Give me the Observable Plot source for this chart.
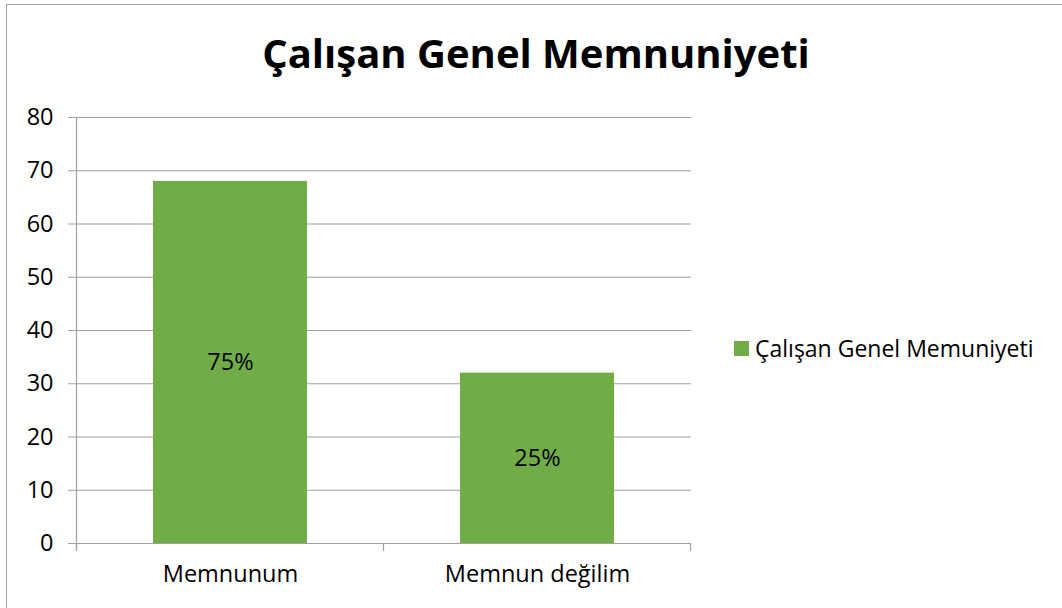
<!DOCTYPE html>
<html>
<head>
<meta charset="utf-8">
<script src="https://cdn.jsdelivr.net/npm/d3@7"></script>
<script src="https://cdn.jsdelivr.net/npm/@observablehq/plot@0.6"></script>
<style>
  html, body { margin: 0; padding: 0; background: #fff; overflow: hidden; }
  #wrap { position: relative; width: 1062px; height: 608px; overflow: hidden; font-family: "Open Sans", sans-serif; }
  #border { position: absolute; left: 6px; top: 4px; width: 1100px; height: 700px; border: 1.5px solid #a6a6a6; box-sizing: border-box; }
  #title { position: absolute; left: 0; width: 1072px; top: 26px; text-align: center; font-weight: bold; font-size: 40px; line-height: 1.362; color: #000; white-space: nowrap; }
  #legend { position: absolute; left: 734px; top: 332px; font-size: 23px; color: #000; white-space: nowrap; display: flex; align-items: center; }
  #legend .sw { width: 15px; height: 15px; background: #70ad47; margin-right: 6px; }
  #chart { position: absolute; left: 0; top: 0; }
</style>
</head>
<body>
<div id="wrap">
  <div id="border"></div>
  <div id="chart"></div>
  <div id="title"></div>
  <div id="legend"><div class="sw"></div><span id="legtext"></span></div>
</div>
<script>
const title = "Çalışan Genel Memnuniyeti";
const seriesName = "Çalışan Genel Memuniyeti";
const categories = ["Memnunum", "Memnun değilim"];
const values = [68, 32];
const barLabels = ["75%", "25%"];
const yTicks = [0, 10, 20, 30, 40, 50, 60, 70, 80];

const data = categories.map((c, i) => ({category: c, value: values[i], label: barLabels[i]}));

document.getElementById("title").textContent = title;
document.getElementById("legtext").textContent = seriesName;

const gridColor = "#a0a0a0";

// boundary ticks on x axis and y-axis line, drawn from the band scale
function axisDecor(index, scales, values, dims) {
  const x = scales.x, y = scales.y;
  const g = d3.create("svg:g").attr("stroke", gridColor).attr("stroke-width", 1.2);
  const step = x.step ? x.step() : x.bandwidth();
  const inner = step - x.bandwidth();
  const y0 = y(0);
  const bounds = categories.map(c => x(c) - inner / 2);
  bounds.push(x(categories[categories.length - 1]) + x.bandwidth() + inner / 2);
  for (const bx of bounds) {
    g.append("line").attr("x1", bx).attr("x2", bx).attr("y1", y0).attr("y2", y0 + 8);
  }
  g.append("line").attr("x1", bounds[0]).attr("x2", bounds[0]).attr("y1", y(80)).attr("y2", y0 + 8);
  return g.node();
}

const chart = Plot.plot({
  width: 1062,
  height: 608,
  marginLeft: 76,
  marginRight: 371,
  marginTop: 117,
  marginBottom: 65,
  style: {fontFamily: "Open Sans, sans-serif", fontSize: "23px", color: "#000", background: "transparent"},
  x: {domain: categories, paddingInner: 0.5, paddingOuter: 0.25, label: null},
  y: {domain: [0, 80], label: null},
  marks: [
    Plot.ruleY(yTicks, {stroke: gridColor, strokeWidth: 1.2, strokeOpacity: 1}),
    Plot.axisY({ticks: yTicks, tickSize: 8, tickPadding: 15, stroke: gridColor, strokeOpacity: 1, fill: "#000", label: null, fontSize: 23.5}),
    Plot.axisX({tickSize: 0, tickPadding: 22, fill: "#000", label: null, fontSize: 23.5}),
    Plot.barY(data, {x: "category", y: "value", fill: "#70ad47"}),
    Plot.ruleY([0], {stroke: gridColor, strokeWidth: 1.2}),
    axisDecor,
    Plot.text(data, {x: "category", y: d => d.value / 2, text: "label", fill: "#000", fontSize: 23.5})
  ]
});
document.getElementById("chart").appendChild(chart);
</script>
</body>
</html>
